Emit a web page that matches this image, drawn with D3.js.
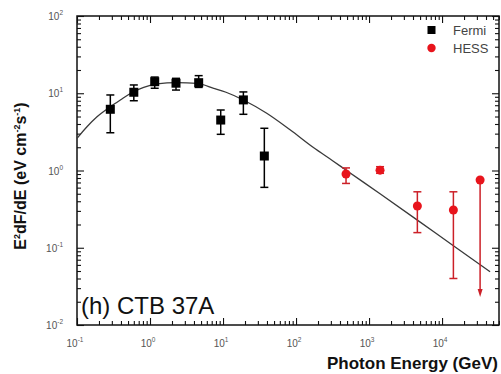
<!DOCTYPE html>
<html>
<head>
<meta charset="utf-8">
<script src="https://cdn.jsdelivr.net/npm/d3@7"></script>
<style>
  body { margin: 0; background: #fff; }
  svg { display: block; font-family: Arial, "Liberation Sans", sans-serif; }
</style>
</head>
<body>
<div id="chart"></div>
<script>
// Fermi points (GeV, eV cm^-2 s^-1)
const fermiE  = [0.286, 0.60, 1.16, 2.27, 4.64, 9.3, 19.0, 36.8];
const fermiF  = [6.2, 10.3, 14.1, 13.5, 13.7, 4.5, 8.2, 1.54];
const fermiHi = [9.5, 12.8, 16.2, 15.6, 16.9, 6.07, 10.4, 3.52];
const fermiLo = [3.08, 8.0, 11.6, 11.0, 11.9, 2.94, 5.34, 0.605];

// HESS points, last one is an upper limit
const hessE  = [484, 1415, 4590, 14300, 33200];
const hessF  = [0.90, 1.01, 0.347, 0.308, 0.753];
const hessHi = [1.08, 1.12, 0.53, 0.53, 0.753];
const hessLo = [0.68, 0.92, 0.157, 0.040, 0.023];
const hessUL = [false, false, false, false, true];

// model curve
const modelE = [0.1, 0.137, 0.188, 0.286, 0.392, 0.566, 0.82, 1.25, 2.34, 4.41, 7.46, 11.0,
                19.0, 39.7, 82.8, 173, 324, 492, 1415, 4590, 14300, 45500];
const modelF = [2.61, 3.69, 4.97, 6.70, 8.18, 10.2, 11.9, 13.2, 13.7, 13.4, 11.6, 10.3,
                8.18, 5.50, 3.36, 1.98, 1.32, 1.0, 0.50, 0.228, 0.106, 0.049];

const xMajors = [-1, 0, 1, 2, 3, 4];
const yMajors = [-2, -1, 0, 1, 2];

const width = 501, height = 374;
const plot = {left: 77, top: 16, right: 499, bottom: 325};

let svg = d3.select("#chart")
    .append("svg")
    .attr("width", width)
    .attr("height", height);

let x = d3.scaleLog()
    .domain([0.1, Math.pow(10, 4.78)])
    .range([plot.left, plot.right]);

let y = d3.scaleLog()
    .domain([0.01, 100])
    .range([plot.bottom, plot.top]);

// minor tick values
function minors(scale) {
    let [a, b] = scale.domain();
    let out = [];
    for (let e = Math.floor(Math.log10(a)); e <= Math.ceil(Math.log10(b)); e++) {
        for (let m = 2; m <= 9; m++) {
            let v = m * Math.pow(10, e);
            if (v > a && v < b) out.push(v);
        }
    }
    return out;
}
let xMaj = xMajors.map(e => Math.pow(10, e));
let yMaj = yMajors.map(e => Math.pow(10, e));

function drawAxis(axisFn, scale, vals, size, transform) {
    let g = svg.append("g")
        .attr("transform", transform)
        .call(axisFn(scale).tickValues(vals).tickSize(size).tickFormat(""));
    g.select(".domain").remove();
    g.selectAll(".tick line").attr("stroke", "#111").attr("stroke-width", 1.1);
}

// ticks inward on all four sides
drawAxis(d3.axisBottom, x, xMaj, -7, `translate(0,${plot.bottom})`);
drawAxis(d3.axisBottom, x, minors(x), -4, `translate(0,${plot.bottom})`);
drawAxis(d3.axisTop, x, xMaj, -7, `translate(0,${plot.top})`);
drawAxis(d3.axisTop, x, minors(x), -4, `translate(0,${plot.top})`);
drawAxis(d3.axisLeft, y, yMaj, -7, `translate(${plot.left},0)`);
drawAxis(d3.axisLeft, y, minors(y), -4, `translate(${plot.left},0)`);
drawAxis(d3.axisRight, y, yMaj, -7, `translate(${plot.right},0)`);
drawAxis(d3.axisRight, y, minors(y), -4, `translate(${plot.right},0)`);

svg.append("rect")
    .attr("x", plot.left)
    .attr("y", plot.top)
    .attr("width", plot.right - plot.left)
    .attr("height", plot.bottom - plot.top)
    .attr("fill", "none")
    .attr("stroke", "#111")
    .attr("stroke-width", 1.5);

// tick labels 10^n
let xl = svg.append("g").selectAll("text").data(xMajors).enter()
    .append("text")
    .attr("x", d => x(Math.pow(10, d)) - 2)
    .attr("y", 347)
    .attr("text-anchor", "middle")
    .style("font-size", "10px")
    .attr("fill", "#555");
xl.append("tspan").text("10");
xl.append("tspan").attr("dy", -5).style("font-size", "6.5px").text(d => d < 0 ? "-" + (-d) : d);

let yl = svg.append("g").selectAll("text").data(yMajors).enter()
    .append("text")
    .attr("x", 63)
    .attr("y", d => y(Math.pow(10, d)) + 4)
    .attr("text-anchor", "end")
    .style("font-size", "10px")
    .attr("fill", "#555");
yl.append("tspan").text("10");
yl.append("tspan").attr("dy", -5).style("font-size", "6.5px").text(d => d < 0 ? "-" + (-d) : d);

// model curve
let line = d3.line()
    .x(d => x(d[0]))
    .y(d => y(d[1]))
    .curve(d3.curveMonotoneX);

svg.append("path")
    .datum(modelE.map((e, i) => [e, modelF[i]]))
    .attr("d", line)
    .attr("fill", "none")
    .attr("stroke", "#3a3a3a")
    .attr("stroke-width", 1.3);

// Fermi error bars and squares
let fermi = fermiE.map((e, i) => ({e: e, f: fermiF[i], hi: fermiHi[i], lo: fermiLo[i]}));
let fg = svg.append("g");
fg.selectAll("line.bar").data(fermi).enter().append("line")
    .attr("x1", d => x(d.e)).attr("x2", d => x(d.e))
    .attr("y1", d => y(d.hi)).attr("y2", d => y(d.lo))
    .attr("stroke", "#000").attr("stroke-width", 1.5);
["hi", "lo"].forEach(k => {
    fg.selectAll("line.cap" + k).data(fermi).enter().append("line")
        .attr("x1", d => x(d.e) - 4).attr("x2", d => x(d.e) + 4)
        .attr("y1", d => y(d[k])).attr("y2", d => y(d[k]))
        .attr("stroke", "#000").attr("stroke-width", 1.5);
});
fg.selectAll("rect").data(fermi).enter().append("rect")
    .attr("x", d => x(d.e) - 4.5).attr("y", d => y(d.f) - 4.5)
    .attr("width", 9).attr("height", 9)
    .attr("fill", "#000");

// HESS error bars and circles
const red = "#e8141c", darkRed = "#cc2028";
let hess = hessE.map((e, i) => ({e: e, f: hessF[i], hi: hessHi[i], lo: hessLo[i], ul: hessUL[i]}));
let hg = svg.append("g");
hg.selectAll("line.bar").data(hess).enter().append("line")
    .attr("x1", d => x(d.e)).attr("x2", d => x(d.e))
    .attr("y1", d => y(d.hi)).attr("y2", d => d.ul ? y(d.lo) - 6 : y(d.lo))
    .attr("stroke", darkRed).attr("stroke-width", 1.5);
["hi", "lo"].forEach(k => {
    hg.selectAll("line.cap" + k).data(hess.filter(d => !d.ul)).enter().append("line")
        .attr("x1", d => x(d.e) - 4).attr("x2", d => x(d.e) + 4)
        .attr("y1", d => y(d[k])).attr("y2", d => y(d[k]))
        .attr("stroke", darkRed).attr("stroke-width", 1.5);
});
hg.selectAll("path.arrow").data(hess.filter(d => d.ul)).enter().append("path")
    .attr("d", d => `M${x(d.e) - 2.5},${y(d.lo) - 8} L${x(d.e) + 2.5},${y(d.lo) - 8} L${x(d.e)},${y(d.lo)} Z`)
    .attr("fill", darkRed);
hg.selectAll("circle").data(hess).enter().append("circle")
    .attr("cx", d => x(d.e)).attr("cy", d => y(d.f))
    .attr("r", 4.5)
    .attr("fill", red);

// legend
svg.append("rect").attr("x", 427.5).attr("y", 26).attr("width", 8).attr("height", 8).attr("fill", "#000");
svg.append("circle").attr("cx", 431.5).attr("cy", 48).attr("r", 4.2).attr("fill", red);
svg.append("text").attr("x", 453).attr("y", 35).style("font-size", "13px").attr("fill", "#444").text("Fermi");
svg.append("text").attr("x", 453).attr("y", 53).style("font-size", "13px").attr("fill", "#444").text("HESS");

// source name
svg.append("text")
    .attr("x", 81)
    .attr("y", 314)
    .style("font-size", "24px")
    .attr("fill", "#111")
    .text("(h) CTB 37A");

// axis titles
svg.append("text")
    .attr("x", 327)
    .attr("y", 369)
    .style("font-size", "17px")
    .style("font-weight", "bold")
    .attr("fill", "#111")
    .text("Photon Energy (GeV)");

let yt = svg.append("text")
    .attr("transform", "translate(26,176) rotate(-90)")
    .attr("text-anchor", "middle")
    .style("font-size", "16px")
    .style("font-weight", "bold")
    .attr("fill", "#111");
yt.append("tspan").text("E");
yt.append("tspan").attr("dy", -6).style("font-size", "9px").text("2");
yt.append("tspan").attr("dy", 6).text("dF/dE (eV cm");
yt.append("tspan").attr("dy", -6).style("font-size", "9px").text("-2");
yt.append("tspan").attr("dy", 6).text("s");
yt.append("tspan").attr("dy", -6).style("font-size", "9px").text("-1");
yt.append("tspan").attr("dy", 6).text(")");
</script>
</body>
</html>
